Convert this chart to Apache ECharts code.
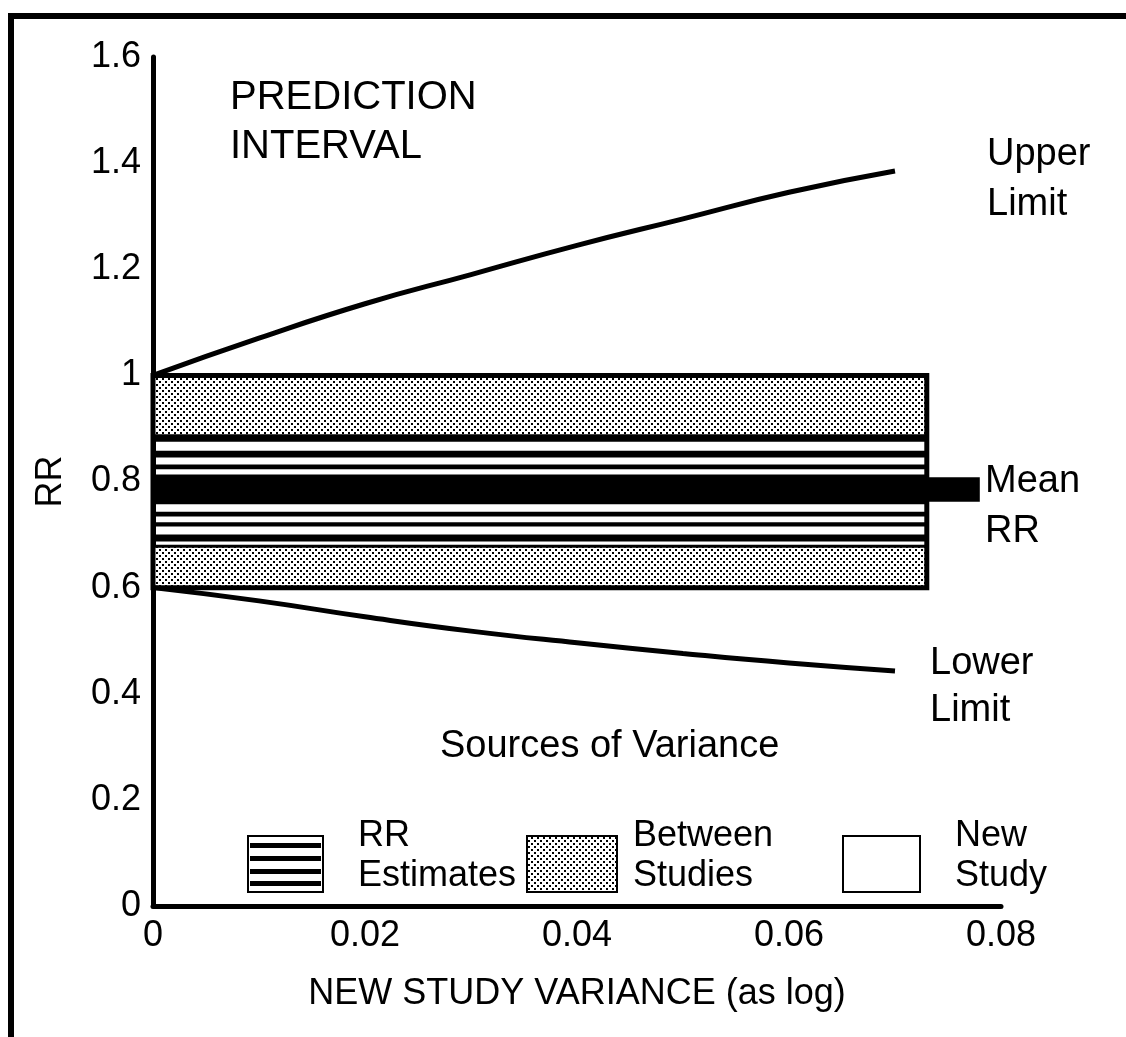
<!DOCTYPE html>
<html lang="en">
<head>
    <meta charset="UTF-8">
    <title>Prediction Interval</title>
    <style>
        html, body { margin: 0; padding: 0; background: #fff; }
    </style>
</head>
<body>
    <div id="main" style="width: 1126px;height:1037px;"></div>
</body>
</html>
<script src="https://cdn.jsdelivr.net/npm/echarts@6/dist/echarts.min.js"></script>
<script type="text/javascript">
    // values
    const xTicks = [0, 0.02, 0.04, 0.06, 0.08];
    const yTicks = [0, 0.2, 0.4, 0.6, 0.8, 1, 1.2, 1.4, 1.6];

    const varianceX = [0, 0.01, 0.02, 0.03, 0.04, 0.05, 0.06, 0.07];
    const upperLimit = [1.00, 1.07, 1.135, 1.19, 1.245, 1.295, 1.345, 1.385];
    const lowerLimit = [0.60, 0.575, 0.545, 0.518, 0.496, 0.476, 0.458, 0.443];

    const boxSpan = [0, 0.073];
    const boxRange = [0.6, 1.0];
    const betweenBands = [[0.885, 1.0], [0.6, 0.68]];
    const rrStripes = [[0.875, 0.889], [0.845, 0.858], [0.823, 0.832], [0.757, 0.813],
                       [0.734, 0.743], [0.715, 0.723], [0.687, 0.700], [0.675, 0.681]];
    const meanBar = [0.762, 0.808];
    const meanBarEnd = 0.078;

    const FONT = '"Liberation Sans", Arial, sans-serif';

    function dotPattern() {
        const c = document.createElement('canvas');
        c.width = 6;
        c.height = 6;
        const g = c.getContext('2d');
        g.fillStyle = '#fff';
        g.fillRect(0, 0, 6, 6);
        g.fillStyle = '#000';
        g.fillRect(0, 0, 2, 2);
        g.fillRect(3, 3, 2, 2);
        return c;
    }
    const dots = {image: dotPattern(), repeat: 'repeat'};

    const boxItems = [];
    betweenBands.forEach(b => boxItems.push([boxSpan[0], boxSpan[1], b[0], b[1], 1]));
    rrStripes.forEach(s => boxItems.push([boxSpan[0], boxSpan[1], s[0], s[1], 0]));
    boxItems.push([boxSpan[1], meanBarEnd, meanBar[0], meanBar[1], 0]);
    boxItems.push([boxSpan[0], boxSpan[1], boxRange[0], boxRange[1], 2]);

    function renderBox(params, api) {
        const p0 = api.coord([api.value(0), api.value(3)]);
        const p1 = api.coord([api.value(1), api.value(2)]);
        const kind = api.value(4);
        let style;
        if (kind === 0) style = {fill: '#000'};
        else if (kind === 1) style = {fill: dots};
        else style = {fill: 'none', stroke: '#000', lineWidth: 5};
        return {
            type: 'rect',
            shape: {x: p0[0], y: p0[1], width: p1[0] - p0[0], height: p1[1] - p0[1]},
            style: style
        };
    }

    function label(x, y, text, size, lh) {
        return {
            type: 'text', x: x, y: y, z: 10,
            style: {text: text, font: size + 'px ' + FONT, fill: '#000', lineHeight: lh, verticalAlign: 'top'}
        };
    }

    const chart = echarts.init(document.getElementById('main'));
    chart.setOption({
        backgroundColor: '#fff',
        animation: false,
        grid: {left: 153, right: 125, top: 57, bottom: 131},
        xAxis: {
            type: 'value', min: xTicks[0], max: xTicks[xTicks.length - 1], interval: 0.02,
            name: 'NEW STUDY VARIANCE (as log)', nameLocation: 'middle', nameGap: 70,
            nameTextStyle: {color: '#000', fontSize: 36, fontFamily: FONT},
            axisLine: {lineStyle: {color: '#000', width: 5}},
            axisTick: {show: false},
            splitLine: {show: false},
            axisLabel: {color: '#000', fontSize: 36, fontFamily: FONT, margin: 12}
        },
        yAxis: {
            type: 'value', min: yTicks[0], max: yTicks[yTicks.length - 1], interval: 0.2,
            name: 'RR', nameLocation: 'middle', nameGap: 84, nameRotate: 90,
            nameTextStyle: {color: '#000', fontSize: 36, fontFamily: FONT},
            axisLine: {lineStyle: {color: '#000', width: 5}},
            axisTick: {show: false},
            splitLine: {show: false},
            axisLabel: {color: '#000', fontSize: 36, fontFamily: FONT, margin: 12}
        },
        series: [
            {
                type: 'custom',
                renderItem: renderBox,
                dimensions: ['x0', 'x1', 'y0', 'y1', 'kind'],
                encode: {x: [0, 1], y: [2, 3]},
                data: boxItems,
                z: 2
            },
            {
                type: 'line', showSymbol: false, smooth: true, z: 3,
                lineStyle: {color: '#000', width: 5},
                data: varianceX.map((x, i) => [x, upperLimit[i]])
            },
            {
                type: 'line', showSymbol: false, smooth: true, z: 3,
                lineStyle: {color: '#000', width: 5},
                data: varianceX.map((x, i) => [x, lowerLimit[i]])
            }
        ],
        graphic: [
            // frame (top and left edges only)
            {type: 'rect', shape: {x: 8, y: 13, width: 1126, height: 6}, style: {fill: '#000'}},
            {type: 'rect', shape: {x: 8, y: 13, width: 6, height: 1030}, style: {fill: '#000'}},

            label(230, 73, 'PREDICTION\nINTERVAL', 40, 49),
            label(987, 130, 'Upper\nLimit', 38, 50),
            label(985, 457, 'Mean\nRR', 38, 50),
            label(930, 640, 'Lower\nLimit', 38, 47),
            label(440, 727, 'Sources of Variance', 38, 40),

            // legend swatches
            {type: 'rect', shape: {x: 248, y: 836, width: 75, height: 56}, style: {fill: '#fff', stroke: '#000', lineWidth: 2}},
            {type: 'rect', shape: {x: 250, y: 843, width: 71, height: 5}, style: {fill: '#000'}},
            {type: 'rect', shape: {x: 250, y: 856, width: 71, height: 5}, style: {fill: '#000'}},
            {type: 'rect', shape: {x: 250, y: 869, width: 71, height: 5}, style: {fill: '#000'}},
            {type: 'rect', shape: {x: 250, y: 881, width: 71, height: 5}, style: {fill: '#000'}},
            {type: 'rect', shape: {x: 527, y: 836, width: 90, height: 56}, style: {fill: dots, stroke: '#000', lineWidth: 2}},
            {type: 'rect', shape: {x: 843, y: 836, width: 77, height: 56}, style: {fill: '#fff', stroke: '#000', lineWidth: 2}},

            label(358, 816, 'RR\nEstimates', 36, 40),
            label(633, 816, 'Between\nStudies', 36, 40),
            label(955, 816, 'New\nStudy', 36, 40)
        ]
    });
</script>
